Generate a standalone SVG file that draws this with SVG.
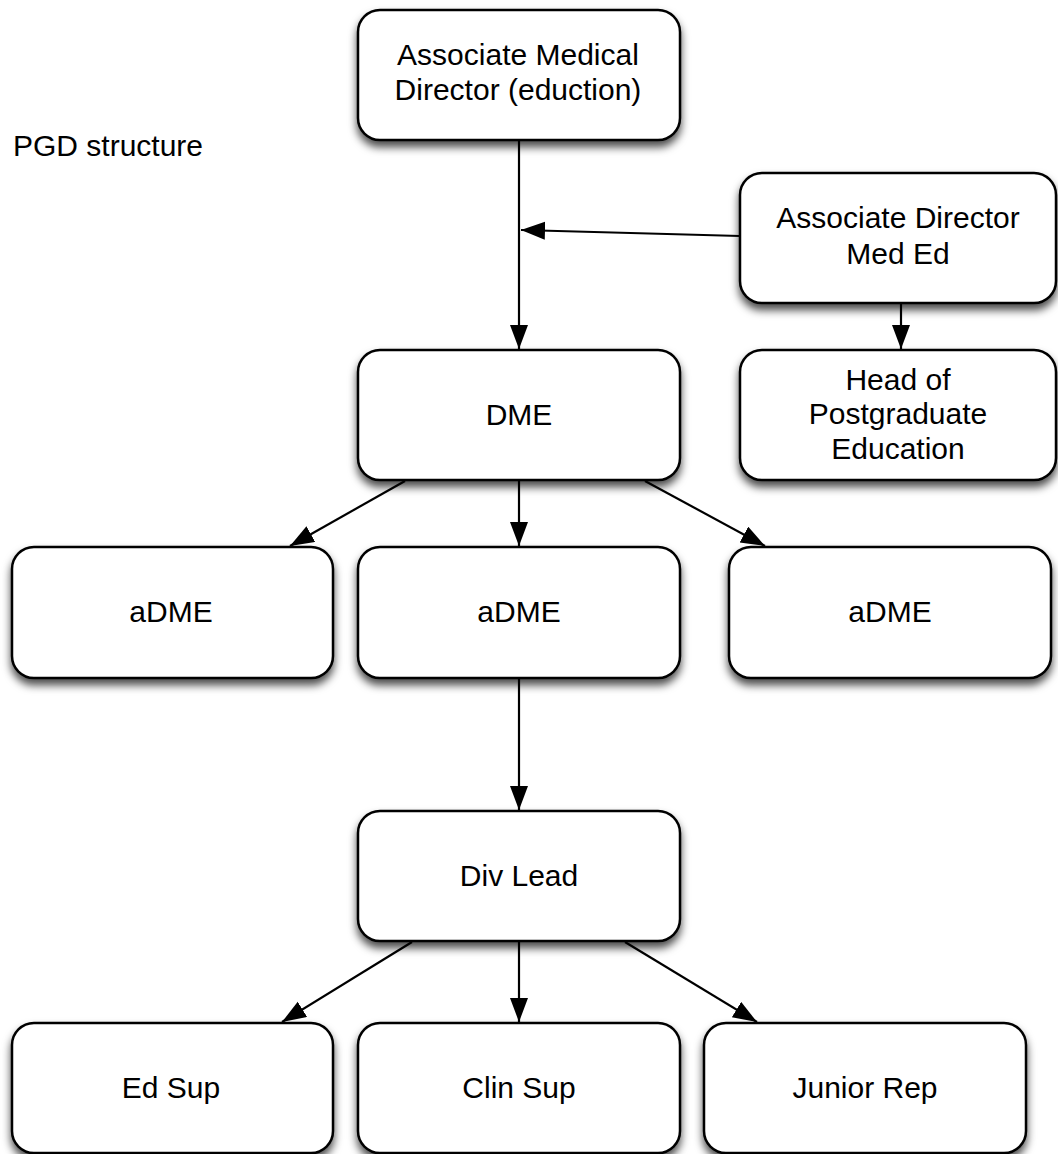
<svg xmlns="http://www.w3.org/2000/svg" width="1058" height="1154" viewBox="0 0 1058 1154">
<defs>
<filter id="sh" x="-10%" y="-10%" width="120%" height="130%">
<feDropShadow dx="0" dy="6" stdDeviation="4.5" flood-color="#000" flood-opacity="0.7"/>
</filter>
<marker id="ah" markerUnits="userSpaceOnUse" markerWidth="26" markerHeight="20" refX="24" refY="9" orient="auto">
<path d="M0,0 L24,9 L0,18 z" fill="#000"/>
</marker>
<style>
.box{fill:#fff;stroke:#000;stroke-width:2.5;filter:url(#sh)}
.t{font-family:"Liberation Sans",Arial,Helvetica,sans-serif;font-size:30px;fill:#000;text-anchor:middle}
.c{stroke:#000;stroke-width:2.2;fill:none;marker-end:url(#ah)}
</style>
</defs>
<rect width="1058" height="1154" fill="#fff"/>
<text x="13" y="156" class="t" style="text-anchor:start">PGD structure</text>
<g id="connectors">
<line class="c" x1="519" y1="141" x2="519" y2="349"/>
<line class="c" x1="740" y1="236" x2="521" y2="230"/>
<line class="c" x1="901" y1="304" x2="901" y2="349"/>
<line class="c" x1="405" y1="481" x2="290" y2="546"/>
<line class="c" x1="519" y1="481" x2="519" y2="546"/>
<line class="c" x1="645" y1="481" x2="765" y2="546"/>
<line class="c" x1="519" y1="679" x2="519" y2="810"/>
<line class="c" x1="412" y1="942" x2="282" y2="1022"/>
<line class="c" x1="519" y1="942" x2="519" y2="1022"/>
<line class="c" x1="625" y1="942" x2="757" y2="1022"/>
</g>
<g id="amd">
<rect class="box" x="358" y="10" width="322" height="130" rx="22"/>
<text class="t" x="518" y="65">Associate Medical</text>
<text class="t" x="518" y="100">Director (eduction)</text>
</g>
<g id="admed">
<rect class="box" x="740" y="173" width="316" height="130" rx="22"/>
<text class="t" x="898" y="228">Associate Director</text>
<text class="t" x="898" y="264">Med Ed</text>
</g>
<g id="hpe">
<rect class="box" x="740" y="350" width="316" height="130" rx="22"/>
<text class="t" x="898" y="390">Head of</text>
<text class="t" x="898" y="424">Postgraduate</text>
<text class="t" x="898" y="459">Education</text>
</g>
<g id="dme">
<rect class="box" x="358" y="350" width="322" height="130" rx="22"/>
<text class="t" x="519" y="425">DME</text>
</g>
<g id="adme1">
<rect class="box" x="12" y="547" width="321" height="131" rx="22"/>
<text class="t" x="171" y="622">aDME</text>
</g>
<g id="adme2">
<rect class="box" x="358" y="547" width="322" height="131" rx="22"/>
<text class="t" x="519" y="622">aDME</text>
</g>
<g id="adme3">
<rect class="box" x="729" y="547" width="322" height="131" rx="22"/>
<text class="t" x="890" y="622">aDME</text>
</g>
<g id="divlead">
<rect class="box" x="358" y="811" width="322" height="130" rx="22"/>
<text class="t" x="519" y="886">Div Lead</text>
</g>
<g id="edsup">
<rect class="box" x="12" y="1023" width="321" height="130" rx="22"/>
<text class="t" x="171" y="1098">Ed Sup</text>
</g>
<g id="clinsup">
<rect class="box" x="358" y="1023" width="322" height="130" rx="22"/>
<text class="t" x="519" y="1098">Clin Sup</text>
</g>
<g id="junrep">
<rect class="box" x="704" y="1023" width="322" height="130" rx="22"/>
<text class="t" x="865" y="1098">Junior Rep</text>
</g>
</svg>
